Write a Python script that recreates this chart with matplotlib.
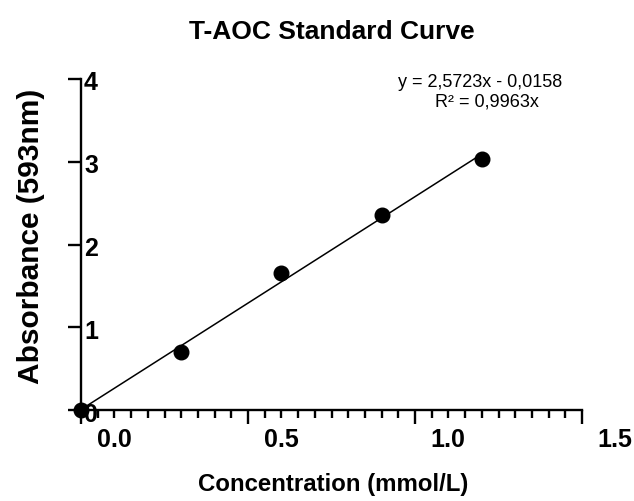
import matplotlib
matplotlib.use("Agg")
import matplotlib.pyplot as plt
import matplotlib.transforms as mtransforms
from matplotlib.ticker import MultipleLocator
import numpy as np

# --------------------------------------------------------------------
# Données lues sur la courbe étalon
# --------------------------------------------------------------------
conc = [0.0, 0.3, 0.6, 0.9, 1.2]
absorb = [0.0, 0.705, 1.652, 2.356, 3.033]

x_ticks = [0.0, 0.5, 1.0, 1.5]
x_tick_labels = ["0.0", "0.5", "1.0", "1.5"]
y_ticks = [0, 1, 2, 3, 4]
y_tick_labels = ["0", "1", "2", "3", "4"]

title = "T-AOC Standard Curve"
x_label = "Concentration (mmol/L)"
y_label = "Absorbance (593nm)"
eq_line = "y = 2,5723x - 0,0158"
r2_line = "R² = 0,9963x"

plt.rcParams["font.family"] = ["Liberation Sans", "DejaVu Sans"]

W, H = 634, 501
fig = plt.figure(figsize=(W / 100, H / 100), dpi=100)
ax = fig.add_axes([81 / W, 1 - 410 / H, (582 - 81) / W, (410 - 79) / H])

# points + droite de régression
ax.plot(conc, absorb, "o", color="black", markersize=10.5, clip_on=False, zorder=5)
slope, intercept = np.polyfit(conc, absorb, 1)
xs = np.array([conc[0], conc[-1]])
ax.plot(xs, slope * xs + intercept, color="black", lw=1.1, clip_on=False, zorder=4)

ax.set_xlim(0, 1.5)
ax.set_ylim(0, 4)

for side in ("top", "right"):
    ax.spines[side].set_visible(False)
for side in ("left", "bottom"):
    ax.spines[side].set_linewidth(1.7)

ax.set_xticks(x_ticks, x_tick_labels)
ax.xaxis.set_minor_locator(MultipleLocator(0.05))
ax.set_yticks(y_ticks, y_tick_labels)

ax.tick_params(axis="x", which="major", length=10, width=1.7, pad=3,
               labelsize=18)
ax.tick_params(axis="x", which="minor", length=6, width=1.7)
ax.tick_params(axis="y", which="major", length=9.5, width=1.7, pad=-11.7,
               labelsize=18)

for lab in ax.get_xticklabels():
    lab.set_fontweight("bold")
    lab.set_transform(lab.get_transform()
                      + mtransforms.ScaledTranslation(0.33, 0, fig.dpi_scale_trans))
for lab in ax.get_yticklabels():
    lab.set_fontweight("bold")
    lab.set_horizontalalignment("left")
    lab.set_transform(lab.get_transform()
                      + mtransforms.ScaledTranslation(0, -0.02, fig.dpi_scale_trans))

ax.set_title(title, fontsize=19, fontweight="bold", pad=29)
ax.set_xlabel(x_label, fontsize=17.3, fontweight="bold")
ax.set_ylabel(y_label, fontsize=21.5, fontweight="bold")
ax.xaxis.set_label_coords(0.503, -0.19)
ax.yaxis.set_label_coords(-0.072, 0.526)

fig.text(480.5 / W, 1 - 82.7 / H, eq_line, ha="center", va="center", fontsize=13)
fig.text(486.5 / W, 1 - 101.7 / H, r2_line, ha="center", va="center", fontsize=13)

fig.savefig("out.png", dpi=100)
